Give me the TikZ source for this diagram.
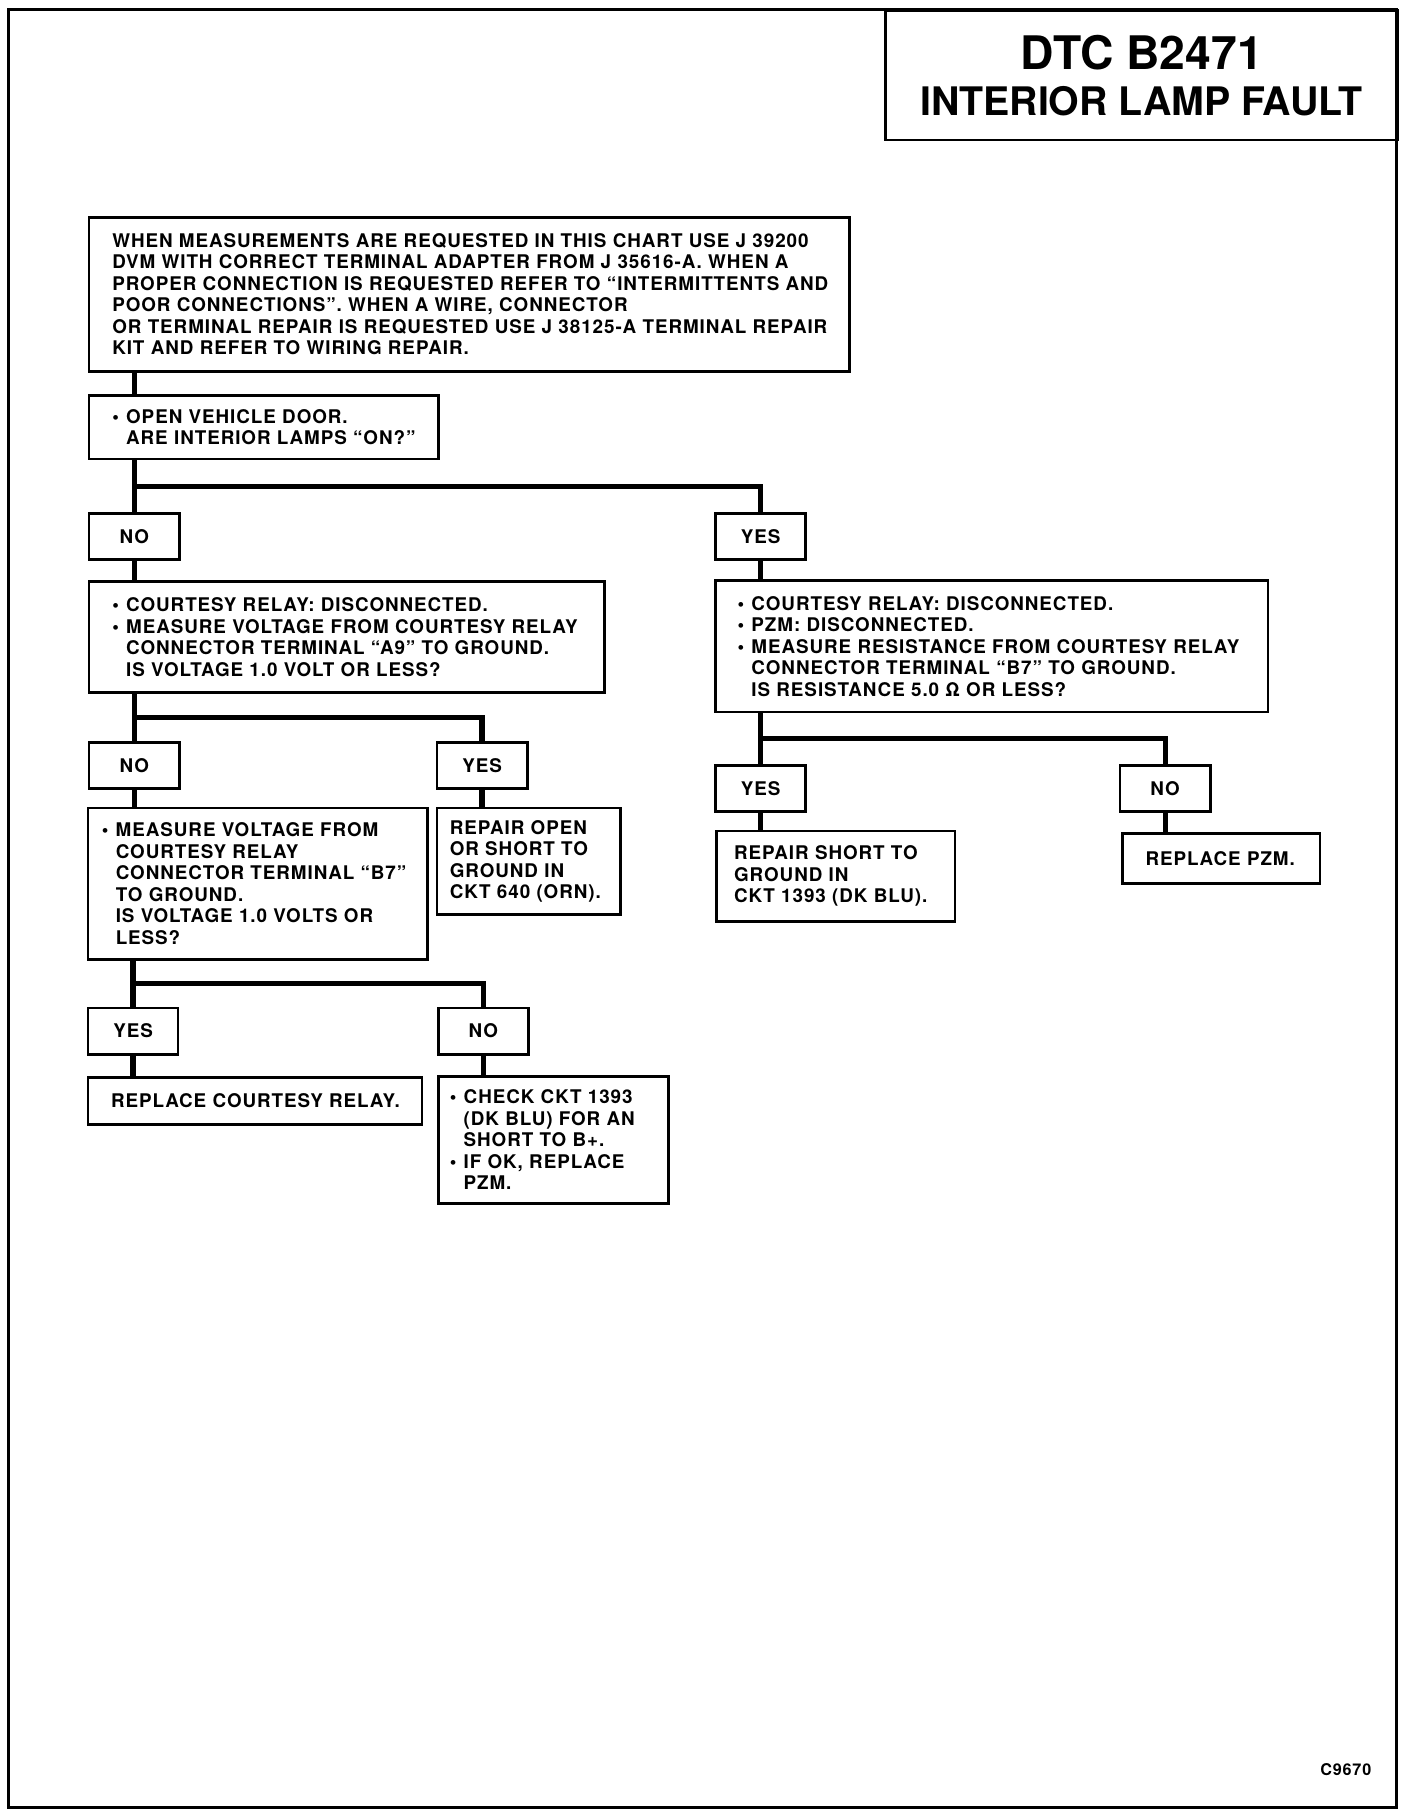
\documentclass[tikz,border=0pt]{standalone}
\usepackage{fontspec}
\setmainfont{TeX Gyre Heros}
\newfontfamily\chartfamily[LetterSpace=5.0]{TeX Gyre Heros}
\usetikzlibrary{calc}
\newcommand{\chartfont}{\chartfamily\bfseries\fontsize{16.3}{18.6}\selectfont}
\newcommand{\chartbullet}{\makebox[12pt][l]{\textbullet}}
\newcommand{\chartindent}{\hspace*{12pt}}

\begin{document}
\begin{tikzpicture}[x=1pt, y=-1pt,
box/.style={draw, line width=2.3pt, anchor=north west, align=left, inner ysep=0pt, font=\chartfont},
answer/.style={draw, line width=2.3pt, anchor=north west, minimum width=78pt, minimum height=40pt, inner sep=0pt, font=\chartfont},
link/.style={line width=4.6pt}]

\useasboundingbox (0,0) rectangle (1218,1573);
\draw[line width=2.6pt] (7,8) rectangle (1208,1564);

% title
\node[draw, line width=2.3pt, anchor=north west, minimum width=443pt, minimum height=112pt, align=center,
  font=\bfseries\fontsize{34}{40}\selectfont] (title) at (765,8)
  {{\fontsize{40}{40}\selectfont DTC B2471}\\ INTERIOR LAMP FAULT};

\node[box, text width=618pt, inner xsep=20pt, minimum height=133pt] (intro) at (76,187)
  {WHEN MEASUREMENTS ARE REQUESTED IN THIS CHART USE J 39200\\
   DVM WITH CORRECT TERMINAL ADAPTER FROM J 35616-A. WHEN A\\
   PROPER CONNECTION IS REQUESTED REFER TO “INTERMITTENTS AND\\
   POOR CONNECTIONS”. WHEN A WIRE, CONNECTOR\\
   OR TERMINAL REPAIR IS REQUESTED USE J 38125-A TERMINAL REPAIR\\
   KIT AND REFER TO WIRING REPAIR.};
\node[box, text width=262pt, inner xsep=20pt, minimum height=55pt] (door) at (76,341)
  {\chartbullet OPEN VEHICLE DOOR.\\ \chartindent ARE INTERIOR LAMPS “ON?”};

\node[answer] (q1no) at (76,443) {NO};
\node[answer] (q1yes) at (618,443) {YES};

\node[box, text width=406pt, inner xsep=20pt, minimum height=96pt] (relay) at (76,502)
  {\chartbullet COURTESY RELAY: DISCONNECTED.\\
   \chartbullet MEASURE VOLTAGE FROM COURTESY RELAY\\
   \chartindent CONNECTOR TERMINAL “A9” TO GROUND.\\
   \chartindent IS VOLTAGE 1.0 VOLT OR LESS?};
\node[box, text width=440pt, inner xsep=19pt, minimum height=114pt] (resist) at (618,501)
  {\chartbullet COURTESY RELAY: DISCONNECTED.\\
   \chartbullet PZM: DISCONNECTED.\\
   \chartbullet MEASURE RESISTANCE FROM COURTESY RELAY\\
   \chartindent CONNECTOR TERMINAL “B7” TO GROUND.\\
   \chartindent IS RESISTANCE 5.0 Ω OR LESS?};

\node[answer] (q2no) at (76,641) {NO};
\node[answer] (q2yes) at (377,641) {YES};
\node[answer] (q3yes) at (618,661) {YES};
\node[answer] (q3no) at (968,661) {NO};

\node[box, text width=270pt, inner xsep=12pt, minimum height=131pt] (volt) at (75,698)
  {\chartbullet MEASURE VOLTAGE FROM\\
   \chartindent COURTESY RELAY\\
   \chartindent CONNECTOR TERMINAL “B7”\\
   \chartindent TO GROUND.\\
   \chartindent IS VOLTAGE 1.0 VOLTS OR\\
   \chartindent LESS?};
\node[box, text width=137pt, inner xsep=11pt, minimum height=92pt] (rep640) at (377,698)
  {REPAIR OPEN\\ OR SHORT TO\\ GROUND IN\\ CKT 640 (ORN).};
\node[box, text width=176pt, inner xsep=15pt, minimum height=78pt] (rep1393) at (619,718)
  {REPAIR SHORT TO\\ GROUND IN\\ CKT 1393 (DK BLU).};
\node[box, text width=131pt, inner xsep=20pt, minimum height=43pt] (pzm) at (970,720)
  {REPLACE PZM.};

\node[answer] (q4yes) at (75,871) {YES};
\node[answer] (q4no) at (378,871) {NO};

\node[box, text width=249pt, inner xsep=20pt, minimum height=41pt] (relayrep) at (75,931)
  {REPLACE COURTESY RELAY.};
\node[box, text width=179pt, inner xsep=10pt, minimum height=110pt] (check) at (378,930)
  {\chartbullet CHECK CKT 1393\\
   \chartindent (DK BLU) FOR AN\\
   \chartindent SHORT TO B+.\\
   \chartbullet IF OK, REPLACE\\
   \chartindent PZM.};

\node[font=\chartfamily\bfseries\fontsize{14}{16}\selectfont, anchor=east] (code) at (1190,1531) {C9670};

% connectors
\draw[link] (intro.south -| q1no) -- (door.north -| q1no);
\draw[link] (door.south -| q1no) -- (q1no.north);
\draw[link] ($(door.south -| q1no)!.5!(q1no.north)$) -| (q1yes.north);
\draw[link] (q1no.south) -- (relay.north -| q1no);
\draw[link] (q1yes.south) -- (resist.north -| q1yes);

\draw[link] (relay.south -| q2no) -- (q2no.north);
\draw[link] ($(relay.south -| q2no)!.5!(q2no.north)$) -| (q2yes.north);
\draw[link] (resist.south -| q3yes) -- (q3yes.north);
\draw[link] ($(resist.south -| q3yes)!.5!(q3yes.north)$) -| (q3no.north);

\draw[link] (q2no.south) -- (volt.north -| q2no);
\draw[link] (q2yes.south) -- (rep640.north -| q2yes);
\draw[link] (q3yes.south) -- (rep1393.north -| q3yes);
\draw[link] (q3no.south) -- (pzm.north -| q3no);

\draw[link] (volt.south -| q4yes) -- (q4yes.north);
\draw[link] ($(volt.south -| q4yes)!.5!(q4yes.north)$) -| (q4no.north);
\draw[link] (q4yes.south) -- (relayrep.north -| q4yes);
\draw[link] (q4no.south) -- (check.north -| q4no);

\end{tikzpicture}
\end{document}
